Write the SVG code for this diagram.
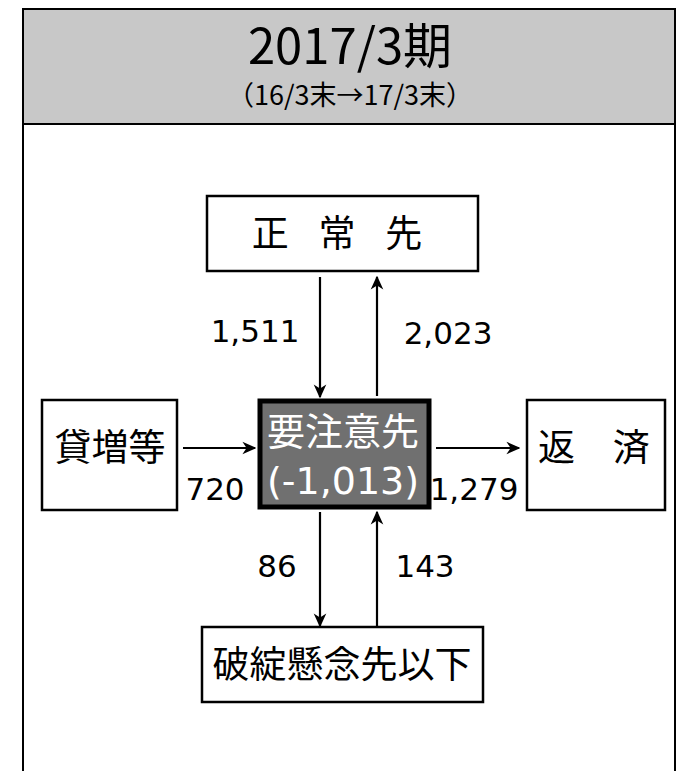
<svg xmlns="http://www.w3.org/2000/svg" width="682" height="771" viewBox="0 0 682 771">
<style>
.box{fill:#fff;stroke:#000;stroke-width:2.5}
.jp{font-family:"DejaVu Sans","Noto Sans CJK JP",sans-serif;font-size:37px;fill:#000;text-anchor:middle}
.num{font-family:"DejaVu Sans","Noto Sans CJK JP",sans-serif;font-size:31px;fill:#000;text-anchor:middle}
.arr{stroke:#000;stroke-width:2.2;fill:none;marker-end:url(#ah)}
</style>
<defs>
<marker id="ah" viewBox="0 0 10 10" refX="9" refY="5" markerWidth="14" markerHeight="14" orient="auto" markerUnits="userSpaceOnUse">
<path d="M0,0.5 L10,5 L0,9.5 L3,5 Z" fill="#000"/>
</marker>
</defs>
<rect width="682" height="771" fill="#fff"/>
<g id="frame">
<rect x="23" y="9" width="652" height="115" fill="#c8c8c8" stroke="#000" stroke-width="2"/>
<path d="M23,124 V771 M675,124 V771" stroke="#000" stroke-width="2" fill="none"/>
<text x="350" y="64" font-family="'Noto Sans CJK JP',sans-serif" font-size="49" text-anchor="middle" fill="#000">2017/3期</text>
<text x="350" y="105" font-family="'Noto Sans CJK JP',sans-serif" font-size="27" text-anchor="middle" fill="#000">（16/3末→17/3末）</text>
</g>
<g id="connectors">
<line class="arr" x1="320" y1="277" x2="320" y2="397"/>
<line class="arr" x1="377" y1="396" x2="377" y2="277"/>
<line class="arr" x1="183" y1="448" x2="255" y2="448"/>
<line class="arr" x1="436" y1="448" x2="519" y2="448"/>
<line class="arr" x1="320" y1="512" x2="320" y2="626"/>
<line class="arr" x1="377" y1="627" x2="377" y2="512"/>
<text class="num" x="255" y="342">1,511</text>
<text class="num" x="448" y="344">2,023</text>
<text class="num" x="215" y="500">720</text>
<text class="num" x="474" y="500">1,279</text>
<text class="num" x="277" y="577">86</text>
<text class="num" x="425" y="577">143</text>
</g>
<g id="normal">
<rect class="box" x="207" y="196" width="271" height="75"/>
<text class="jp" x="337" y="247" word-spacing="18">正 常 先</text>
</g>
<g id="loan">
<rect class="box" x="42" y="400" width="135" height="110"/>
<text class="jp" x="110" y="461">貸増等</text>
</g>
<g id="center">
<rect x="260" y="401" width="169" height="106" fill="#707070" stroke="#000" stroke-width="5"/>
<text class="jp" x="343" y="445" style="fill:#fff;font-size:38px">要注意先</text>
<text class="jp" x="343" y="494" style="fill:#fff;font-size:38px">(-1,013)</text>
</g>
<g id="repay">
<rect class="box" x="527" y="400" width="138" height="110"/>
<text class="jp" x="594" y="461" word-spacing="26">返 済</text>
</g>
<g id="doubtful">
<rect class="box" x="202" y="627" width="281" height="75"/>
<text class="jp" x="342" y="678">破綻懸念先以下</text>
</g>
</svg>
